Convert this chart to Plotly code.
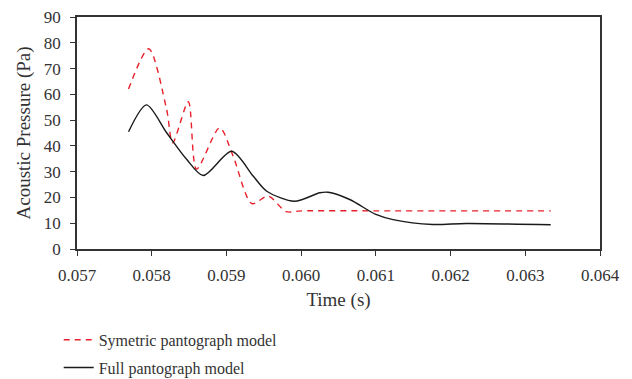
import plotly.graph_objects as go

# Acoustic pressure time histories (time in s, pressure in Pa)
sym_time = [0.05769, 0.05796, 0.05820, 0.05828, 0.05849, 0.05860, 0.05891, 0.05909,
            0.05934, 0.05956, 0.05980, 0.06000, 0.06100, 0.06200, 0.06334]
sym_pressure = [62.1, 77.7, 54.1, 41.2, 57.1, 31.0, 47.0, 36.0,
                17.6, 20.5, 14.5, 14.8, 14.8, 14.8, 14.8]

full_time = [0.05769, 0.05793, 0.05820, 0.05847, 0.05869, 0.05907, 0.05936, 0.05954,
             0.05991, 0.06025, 0.06036, 0.06065, 0.06100, 0.06123, 0.06176, 0.06221, 0.06334]
full_pressure = [45.5, 55.9, 45.1, 34.7, 28.5, 37.9, 28.2, 22.4,
                 18.5, 21.8, 22.0, 19.2, 13.4, 11.4, 9.5, 9.9, 9.4]

x_ticks = [0.057, 0.058, 0.059, 0.060, 0.061, 0.062, 0.063, 0.064]
x_tick_labels = ["0.057", "0.058", "0.059", "0.060", "0.061", "0.062", "0.063", "0.064"]

FONT = "Liberation Serif"
INK = "#333333"

fig = go.Figure()
fig.add_trace(go.Scatter(
    x=sym_time, y=sym_pressure, mode="lines", name="Symetric pantograph model",
    line=dict(color="#e8202a", width=1.4, dash="6px,5px", shape="spline", smoothing=0.8),
    legendgroup="a",
))
fig.add_trace(go.Scatter(
    x=full_time, y=full_pressure, mode="lines", name="Full pantograph model",
    line=dict(color="#1a1a1a", width=1.4, shape="spline", smoothing=0.8),
    legendgroup="b",
))

axis_common = dict(
    showline=True, linecolor=INK, linewidth=1.5, mirror=True,
    ticks="outside", ticklen=5, tickcolor=INK, showgrid=False, zeroline=False,
    tickfont=dict(family=FONT, size=17, color=INK),
)

fig.update_layout(
    width=632, height=379,
    margin=dict(l=77, r=32, t=17, b=130, autoexpand=False),
    paper_bgcolor="white", plot_bgcolor="white",
    font=dict(family=FONT, size=16, color=INK),
    xaxis=dict(range=[0.057, 0.064], tickvals=x_ticks, ticktext=x_tick_labels,
               ticklabelstandoff=5,
               title=dict(text="Time (s)", font=dict(family=FONT, size=19), standoff=9),
               **axis_common),
    yaxis=dict(range=[0, 90], dtick=10, ticklabelstandoff=6,
               title=dict(text="Acoustic Pressure (Pa)", font=dict(family=FONT, size=19), standoff=8),
               **axis_common),
    showlegend=True,
    legend=dict(x=-0.035, y=-0.318, xanchor="left", yanchor="top",
                traceorder="grouped", tracegroupgap=4,
                font=dict(family=FONT, size=16, color=INK),
                bgcolor="rgba(0,0,0,0)"),
)

fig.write_html("out.html")
